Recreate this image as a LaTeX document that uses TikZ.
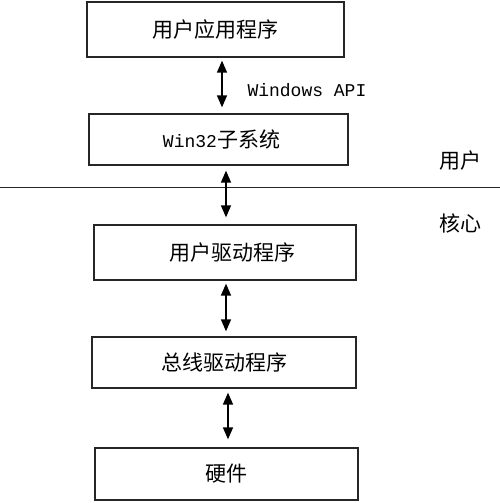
\documentclass[tikz,border=0pt]{standalone}
\usepackage{fontspec}
\setmainfont{Noto Sans CJK SC}
\newfontfamily\apifont{Liberation Mono}
\usepackage{tikz}
\usetikzlibrary{arrows.meta,positioning}
\tikzstyle{layer}=[draw=black!85,line width=1.3pt,inner sep=0pt,font=\fontsize{21}{24}\selectfont]
\newcommand\latin[1]{{\apifont\fontsize{18}{20}\selectfont #1}}

\begin{document}
\begin{tikzpicture}[x=1pt,y=-1pt,
    link/.style={{Triangle[width=10pt,length=12pt]}-{Triangle[width=10pt,length=12pt]},line width=1.5pt},
    side/.style={font=\fontsize{21}{24}\selectfont}]
  \useasboundingbox (0,0) rectangle (500,503);
  % layers
  \node[layer, minimum width=257pt, minimum height=55pt] (app) at (215.5,29.5) {用户应用程序};
  \node[layer, minimum width=259pt, minimum height=51pt] (win) at (218.5,139.5) {\hspace*{6pt}\latin{Win32}子系统};
  \node[layer, minimum width=262pt, minimum height=55pt] (drv) at (225,252.5) {\hspace*{14pt}用户驱动程序};
  \node[layer, minimum width=264pt, minimum height=51pt] (bus) at (224,362.5) {总线驱动程序};
  \node[layer, minimum width=263pt, minimum height=52pt] (hw) at (226.5,474) {硬件};
  % user / kernel border
  \coordinate (sepL) at (0,187.5);
  \coordinate (sepR) at (500,187.5);
  \draw[line width=1.3pt, black!85] (sepL) -- (sepR);
  \node[side] (user) at (460,161) {用户};
  \node[side] (kernel) at (460,223) {核心};
  \node[anchor=west] (api) at (244,90) {\latin{Windows API}};
  % arrows
  \draw[link, shorten <=3pt, shorten >=6pt] ([xshift=6.5pt]app.south) -- ([xshift=6.5pt]app.south |- win.north);
  \draw[link, shorten <=5pt, shorten >=7pt] ([xshift=7.5pt]win.south) -- ([xshift=7.5pt]win.south |- drv.north);
  \draw[link, shorten <=3pt, shorten >=5pt] ([xshift=1pt]drv.south) -- ([xshift=1pt]drv.south |- bus.north);
  \draw[link, shorten <=4pt, shorten >=8pt] ([xshift=4pt]bus.south) -- ([xshift=4pt]bus.south |- hw.north);
\end{tikzpicture}
\end{document}
